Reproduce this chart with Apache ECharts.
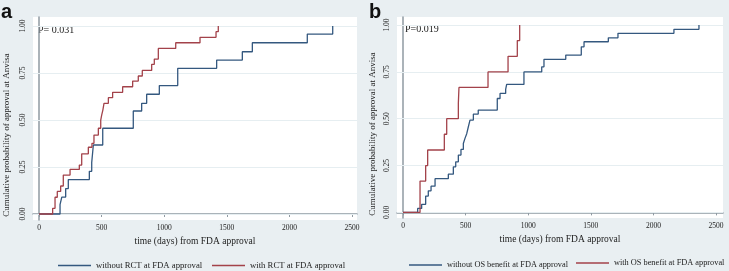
<!DOCTYPE html>
<html>
<head>
<meta charset="utf-8">
<script src="https://cdn.jsdelivr.net/npm/echarts@6/dist/echarts.min.js"></script>
<style>
html, body { margin: 0; padding: 0; background: #e9eff2; }
#container { width: 729px; height: 271px; }
</style>
</head>
<body>
<div id="container"></div>
<script>
var dom = document.getElementById("container");
var myChart = echarts.init(dom);

// panel a - RCT at FDA approval
var noRctDays = [0, 168, 182, 213, 234, 402, 421, 434, 509, 753, 820, 860, 961, 1108, 1419, 1624, 1704, 2143, 2346];
var noRctProb = [0, 0.05, 0.09, 0.135, 0.183, 0.227, 0.273, 0.367, 0.456, 0.548, 0.589, 0.637, 0.683, 0.775, 0.819, 0.863, 0.911, 0.957, 1.0];
var rctDays = [0, 109, 128, 146, 173, 194, 248, 322, 341, 394, 423, 439, 474, 493, 501, 510, 519, 554, 588, 668, 748, 793, 825, 900, 921, 953, 1092, 1286, 1414, 1432];
var rctProb = [0, 0.03, 0.089, 0.12, 0.149, 0.207, 0.237, 0.26, 0.32, 0.355, 0.376, 0.42, 0.456, 0.5, 0.527, 0.553, 0.589, 0.619, 0.647, 0.677, 0.707, 0.734, 0.764, 0.796, 0.824, 0.881, 0.911, 0.94, 0.97, 1.0];

// panel b - OS benefit at FDA approval
var noOsDays = [0, 117, 149, 181, 202, 224, 256, 362, 402, 421, 442, 463, 482, 495, 509, 522, 535, 562, 601, 753, 775, 820, 828, 966, 1108, 1126, 1300, 1424, 1446, 1640, 1717, 2164, 2364];
var noOsProb = [0, 0.021, 0.043, 0.087, 0.115, 0.14, 0.18, 0.204, 0.243, 0.27, 0.306, 0.336, 0.368, 0.395, 0.42, 0.457, 0.493, 0.525, 0.546, 0.608, 0.635, 0.657, 0.683, 0.75, 0.777, 0.817, 0.84, 0.884, 0.911, 0.932, 0.956, 0.977, 1.0];
var osDays = [0, 136, 181, 197, 330, 349, 442, 447, 679, 839, 913, 932];
var osProb = [0, 0.167, 0.25, 0.333, 0.417, 0.5, 0.583, 0.667, 0.75, 0.833, 0.917, 1.0];

var xTicks = [0, 500, 1000, 1500, 2000, 2500];
var yTicks = [0, 0.25, 0.5, 0.75, 1];

var blue = '#34587f';
var red = '#a3424a';
var axisGrey = '#8f9aa2';
var gridColor = '#e6eef1';
var serif = '"Liberation Serif", "DejaVu Serif", serif';

function pairs(d, p) {
    return d.map(function (v, i) { return [v, p[i]]; });
}

function makeX(idx, max) {
    return {
        type: 'value', gridIndex: idx, min: -48, max: max,
        name: 'time (days) from FDA approval', nameLocation: 'middle', nameGap: 15,
        nameTextStyle: { fontFamily: serif, fontSize: 9.5, color: '#222' },
        axisLine: { show: true, lineStyle: { color: axisGrey, width: 1.5 } },
        axisTick: { show: true, length: 3, customValues: xTicks, lineStyle: { color: axisGrey } },
        axisLabel: {
            customValues: xTicks, fontFamily: serif, fontSize: 7.5, color: '#222', margin: 4,
            formatter: function (v) { return String(v); }
        },
        splitLine: { show: false }
    };
}

function makeY(idx, min, max) {
    return {
        type: 'value', gridIndex: idx, min: min, max: max,
        axisLine: { show: true, lineStyle: { color: axisGrey, width: 1.5 } },
        axisTick: { show: true, length: 3, customValues: yTicks, lineStyle: { color: axisGrey } },
        axisLabel: {
            customValues: yTicks, rotate: 90, fontFamily: serif, fontSize: 7.5, color: '#222', margin: 6,
            formatter: function (v) { return v.toFixed(2); }
        },
        splitLine: { show: false }
    };
}

function kmLine(name, d, p, color, idx, withGrid) {
    var s = {
        name: name, type: 'line', step: 'end', xAxisIndex: idx, yAxisIndex: idx,
        data: pairs(d, p), showSymbol: false, symbol: 'none', z: 3,
        lineStyle: { color: color, width: 1.3 }, itemStyle: { color: color },
        animation: false
    };
    if (withGrid) {
        s.markLine = {
            silent: true, symbol: 'none', label: { show: false }, z: 1,
            lineStyle: { color: gridColor, type: 'solid', width: 1 },
            data: yTicks.map(function (v) { return { yAxis: v }; })
        };
    }
    return s;
}

// one legend per item so each key sits where it does in the figure
function legendFor(name, left, top, size) {
    return {
        data: [name], left: left, top: top,
        icon: 'rect', itemWidth: 33, itemHeight: 1.3,
        textStyle: { fontFamily: serif, fontSize: size, color: '#222' }
    };
}

var option = {
    backgroundColor: '#e9eff2',
    animation: false,
    grid: [
        { left: 33, top: 17, right: 372, bottom: 51, show: true, backgroundColor: '#ffffff', borderWidth: 0 },
        { left: 397, top: 17, right: 6, bottom: 53, show: true, backgroundColor: '#ffffff', borderWidth: 0 }
    ],
    xAxis: [makeX(0, 2540), makeX(1, 2556)],
    yAxis: [makeY(0, -0.032, 1.048), makeY(1, -0.03, 1.043)],
    legend: [
        legendFor('without RCT at FDA approval', 53, 256, 8.7),
        legendFor('with RCT at FDA approval', 207, 256, 8.7),
        legendFor('without OS benefit at FDA approval', 404, 256, 8.3),
        legendFor('with OS benefit at FDA approval', 571, 254, 8.3)
    ],
    graphic: [
        { type: 'text', left: 1, top: 2, style: { text: 'a', font: 'bold 20px "Liberation Sans", Arial, sans-serif', fill: '#111' } },
        { type: 'text', left: 369, top: 2, style: { text: 'b', font: 'bold 20px "Liberation Sans", Arial, sans-serif', fill: '#111' } },
        { type: 'text', left: 38, top: 25, style: { text: 'P= 0.031', font: '10px ' + serif, fill: '#222' } },
        { type: 'text', left: 405, top: 24, style: { text: 'P=0.019', font: '10px ' + serif, fill: '#222' } },
        { type: 'text', x: 7, y: 135, rotation: Math.PI / 2,
          style: { text: 'Cumulative probability of approval at Anvisa', font: '9px ' + serif, fill: '#222', align: 'center', verticalAlign: 'middle' } },
        { type: 'text', x: 373, y: 134, rotation: Math.PI / 2,
          style: { text: 'Cumulative probability of approval at Anvisa', font: '9px ' + serif, fill: '#222', align: 'center', verticalAlign: 'middle' } }
    ],
    series: [
        kmLine('without RCT at FDA approval', noRctDays, noRctProb, blue, 0, true),
        kmLine('with RCT at FDA approval', rctDays, rctProb, red, 0, false),
        kmLine('without OS benefit at FDA approval', noOsDays, noOsProb, blue, 1, true),
        kmLine('with OS benefit at FDA approval', osDays, osProb, red, 1, false)
    ]
};

myChart.setOption(option);
</script>
</body>
</html>
